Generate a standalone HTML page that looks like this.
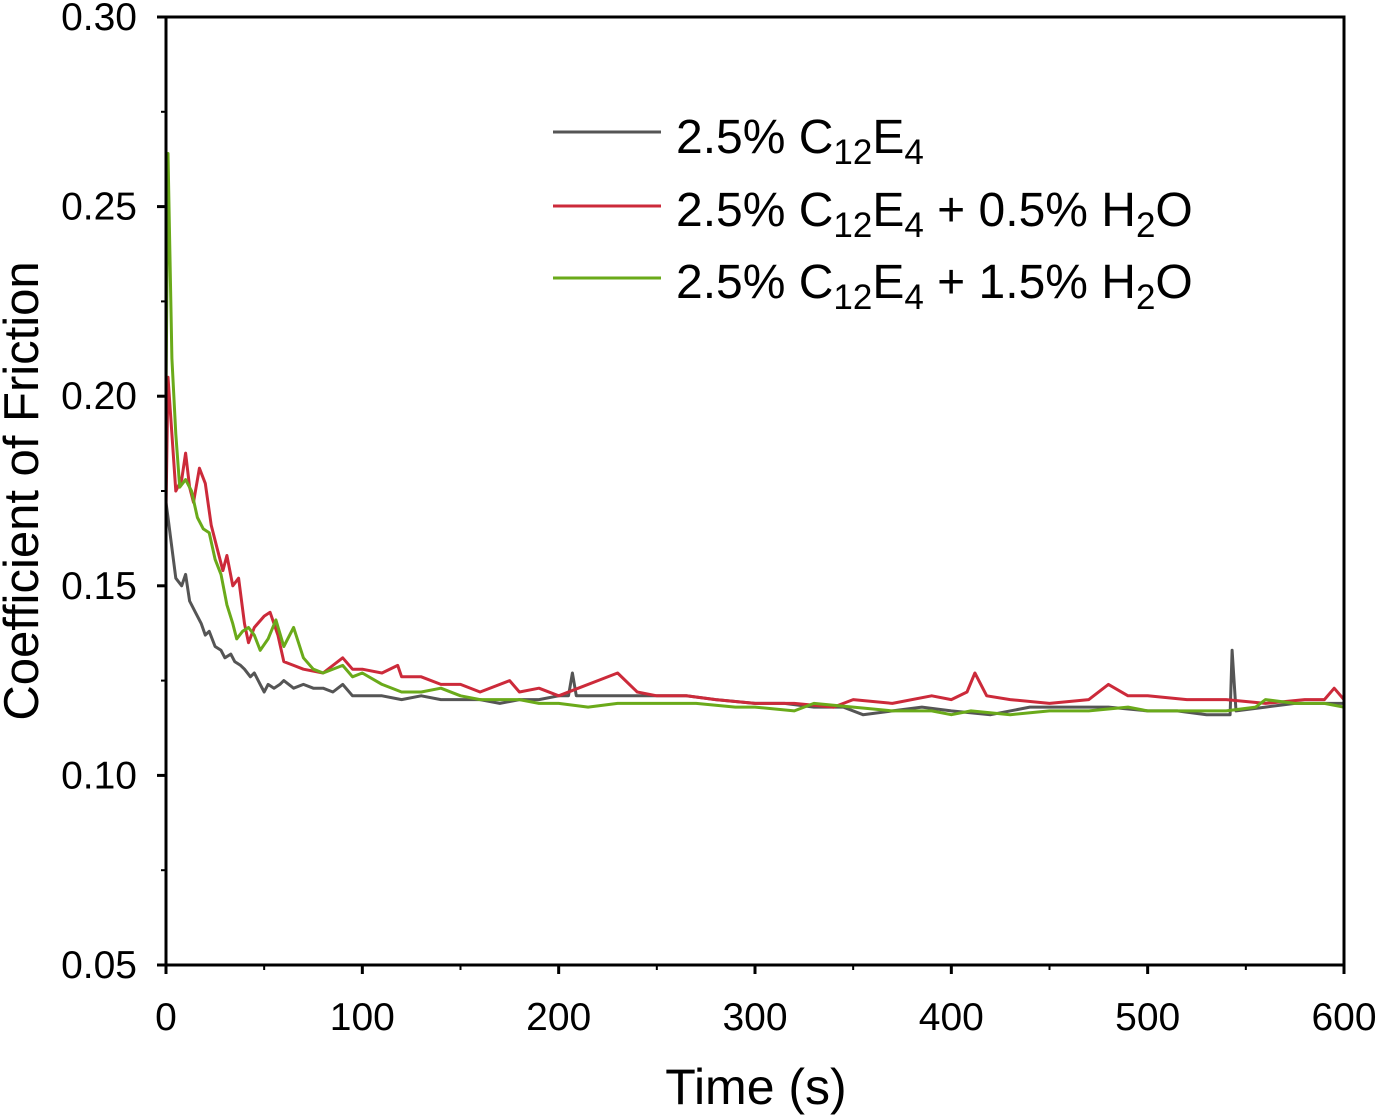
<!DOCTYPE html>
<html><head><meta charset="utf-8"><style>
body{margin:0;background:#fff;width:1377px;height:1115px;overflow:hidden}
text{font-family:"Liberation Sans",Arial,sans-serif;fill:#000}
</style></head><body>
<svg id="chart" width="1377" height="1115" viewBox="0 0 1377 1115">
<g id="marks"></g>
<g id="axes"></g>
<g id="legend">
<line x1="553" y1="132" x2="661" y2="132" stroke="#555" stroke-width="3"/>
<text x="676" y="153" font-size="48">2.5% C<tspan font-size="35" dy="11">12</tspan><tspan dy="-11">E</tspan><tspan font-size="35" dy="11">4</tspan></text>
<line x1="553" y1="206" x2="661" y2="206" stroke="#cc2a3a" stroke-width="3"/>
<text x="676" y="226" font-size="48">2.5% C<tspan font-size="35" dy="11">12</tspan><tspan dy="-11">E</tspan><tspan font-size="35" dy="11">4</tspan><tspan dy="-11"> + 0.5% H</tspan><tspan font-size="35" dy="11">2</tspan><tspan dy="-11">O</tspan></text>
<line x1="553" y1="278" x2="661" y2="278" stroke="#6aaa1a" stroke-width="3"/>
<text x="676" y="298" font-size="48">2.5% C<tspan font-size="35" dy="11">12</tspan><tspan dy="-11">E</tspan><tspan font-size="35" dy="11">4</tspan><tspan dy="-11"> + 1.5% H</tspan><tspan font-size="35" dy="11">2</tspan><tspan dy="-11">O</tspan></text>
</g>
<text x="756" y="1104" font-size="50" text-anchor="middle">Time (s)</text>
<text transform="translate(38,491) rotate(-90)" font-size="49" text-anchor="middle">Coefficient of Friction</text>
</svg>
<script>
const xTicks=[0,100,200,300,400,500,600];
const yTicks=[0.05,0.10,0.15,0.20,0.25,0.30];
const yTickLabels=["0.05","0.10","0.15","0.20","0.25","0.30"];
const grayT=[0,1,3,5,8,10,12,15,18,20,22,25,28,30,33,35,38,40,43,45,48,50,52,55,58,60,65,70,75,80,85,90,95,100,110,120,130,140,150,160,170,180,190,200,205,207,209,215,230,250,265,280,300,315,330,345,355,370,385,400,420,440,460,480,500,515,530,542,543,545,560,575,590,600];
const grayV=[0.172,0.168,0.160,0.152,0.150,0.153,0.146,0.143,0.140,0.137,0.138,0.134,0.133,0.131,0.132,0.130,0.129,0.128,0.126,0.127,0.124,0.122,0.124,0.123,0.124,0.125,0.123,0.124,0.123,0.123,0.122,0.124,0.121,0.121,0.121,0.120,0.121,0.120,0.120,0.120,0.119,0.120,0.120,0.121,0.121,0.127,0.121,0.121,0.121,0.121,0.121,0.120,0.119,0.119,0.118,0.118,0.116,0.117,0.118,0.117,0.116,0.118,0.118,0.118,0.117,0.117,0.116,0.116,0.133,0.117,0.118,0.119,0.119,0.119];
const redT=[0,1,3,5,8,10,12,14,17,20,23,26,29,31,34,37,40,42,45,50,53,57,60,65,70,80,90,95,100,110,118,120,130,140,150,160,175,180,190,200,210,220,230,240,250,265,280,300,320,340,350,370,390,400,408,412,418,430,450,470,480,490,500,520,540,560,580,590,595,600];
const redV=[0.170,0.205,0.190,0.175,0.178,0.185,0.176,0.172,0.181,0.177,0.166,0.160,0.154,0.158,0.150,0.152,0.140,0.135,0.139,0.142,0.143,0.137,0.130,0.129,0.128,0.127,0.131,0.128,0.128,0.127,0.129,0.126,0.126,0.124,0.124,0.122,0.125,0.122,0.123,0.121,0.123,0.125,0.127,0.122,0.121,0.121,0.120,0.119,0.119,0.118,0.120,0.119,0.121,0.120,0.122,0.127,0.121,0.120,0.119,0.120,0.124,0.121,0.121,0.120,0.120,0.119,0.120,0.120,0.123,0.120];
const greenT=[0,1,3,5,7,10,13,16,19,22,25,28,31,34,36,39,42,45,48,52,56,60,65,70,75,80,90,95,100,110,120,130,140,150,160,170,180,190,200,215,230,250,270,290,300,320,330,350,370,390,400,410,430,450,470,490,500,520,540,555,560,575,590,600];
const greenV=[0.200,0.264,0.210,0.190,0.176,0.178,0.175,0.168,0.165,0.164,0.157,0.153,0.145,0.140,0.136,0.138,0.139,0.137,0.133,0.136,0.141,0.134,0.139,0.131,0.128,0.127,0.129,0.126,0.127,0.124,0.122,0.122,0.123,0.121,0.120,0.120,0.120,0.119,0.119,0.118,0.119,0.119,0.119,0.118,0.118,0.117,0.119,0.118,0.117,0.117,0.116,0.117,0.116,0.117,0.117,0.118,0.117,0.117,0.117,0.118,0.120,0.119,0.119,0.118];
const X0=166,X1=1344,Y0=965,Y1=17;
const xs=t=>X0+(t/600)*(X1-X0);
const ys=v=>Y0-(v-0.05)/0.25*(Y0-Y1);
const NS="http://www.w3.org/2000/svg";
const marks=document.getElementById('marks'),axes=document.getElementById('axes');
function mk(tag,attrs,parent){const e=document.createElementNS(NS,tag);for(const k in attrs)e.setAttribute(k,attrs[k]);parent.appendChild(e);return e;}
function series(T,V,color,name){
 const p=mk('polyline',{points:T.map((t,i)=>xs(t).toFixed(1)+','+ys(V[i]).toFixed(1)).join(' '),fill:'none',stroke:color,'stroke-width':3,'stroke-linejoin':'round'},marks);
 
 
}
series(grayT,grayV,'#555','series-c12e4');
series(redT,redV,'#cc2a3a','series-05-h2o');
series(greenT,greenV,'#6aaa1a','series-15-h2o');
const frame=mk('rect',{x:X0,y:Y1,width:X1-X0,height:Y0-Y1,fill:'none',stroke:'#000','stroke-width':3},axes);


xTicks.forEach((t,i)=>{
 const l=mk('line',{x1:xs(t),x2:xs(t),y1:Y0,y2:Y0+9,stroke:'#000','stroke-width':3},axes);
 
 
 const tx=mk('text',{x:xs(t),y:1030,'font-size':39,'text-anchor':'middle'},axes);tx.textContent=t;
 
 
 if(i<xTicks.length-1){const m=mk('line',{x1:xs(t+50),x2:xs(t+50),y1:Y0,y2:Y0+5,stroke:'#000','stroke-width':2},axes);
 
 }
});
yTicks.forEach((v,i)=>{
 const l=mk('line',{x1:X0-9,x2:X0,y1:ys(v),y2:ys(v),stroke:'#000','stroke-width':3},axes);
 
 
 const tx=mk('text',{x:137,y:ys(v)+13,'font-size':39,'text-anchor':'end'},axes);tx.textContent=yTickLabels[i];
 
 
 if(i<yTicks.length-1){const m=mk('line',{x1:X0-5,x2:X0,y1:ys(v+0.025),y2:ys(v+0.025),stroke:'#000','stroke-width':2},axes);
 
 }
});
</script>
</body></html>
